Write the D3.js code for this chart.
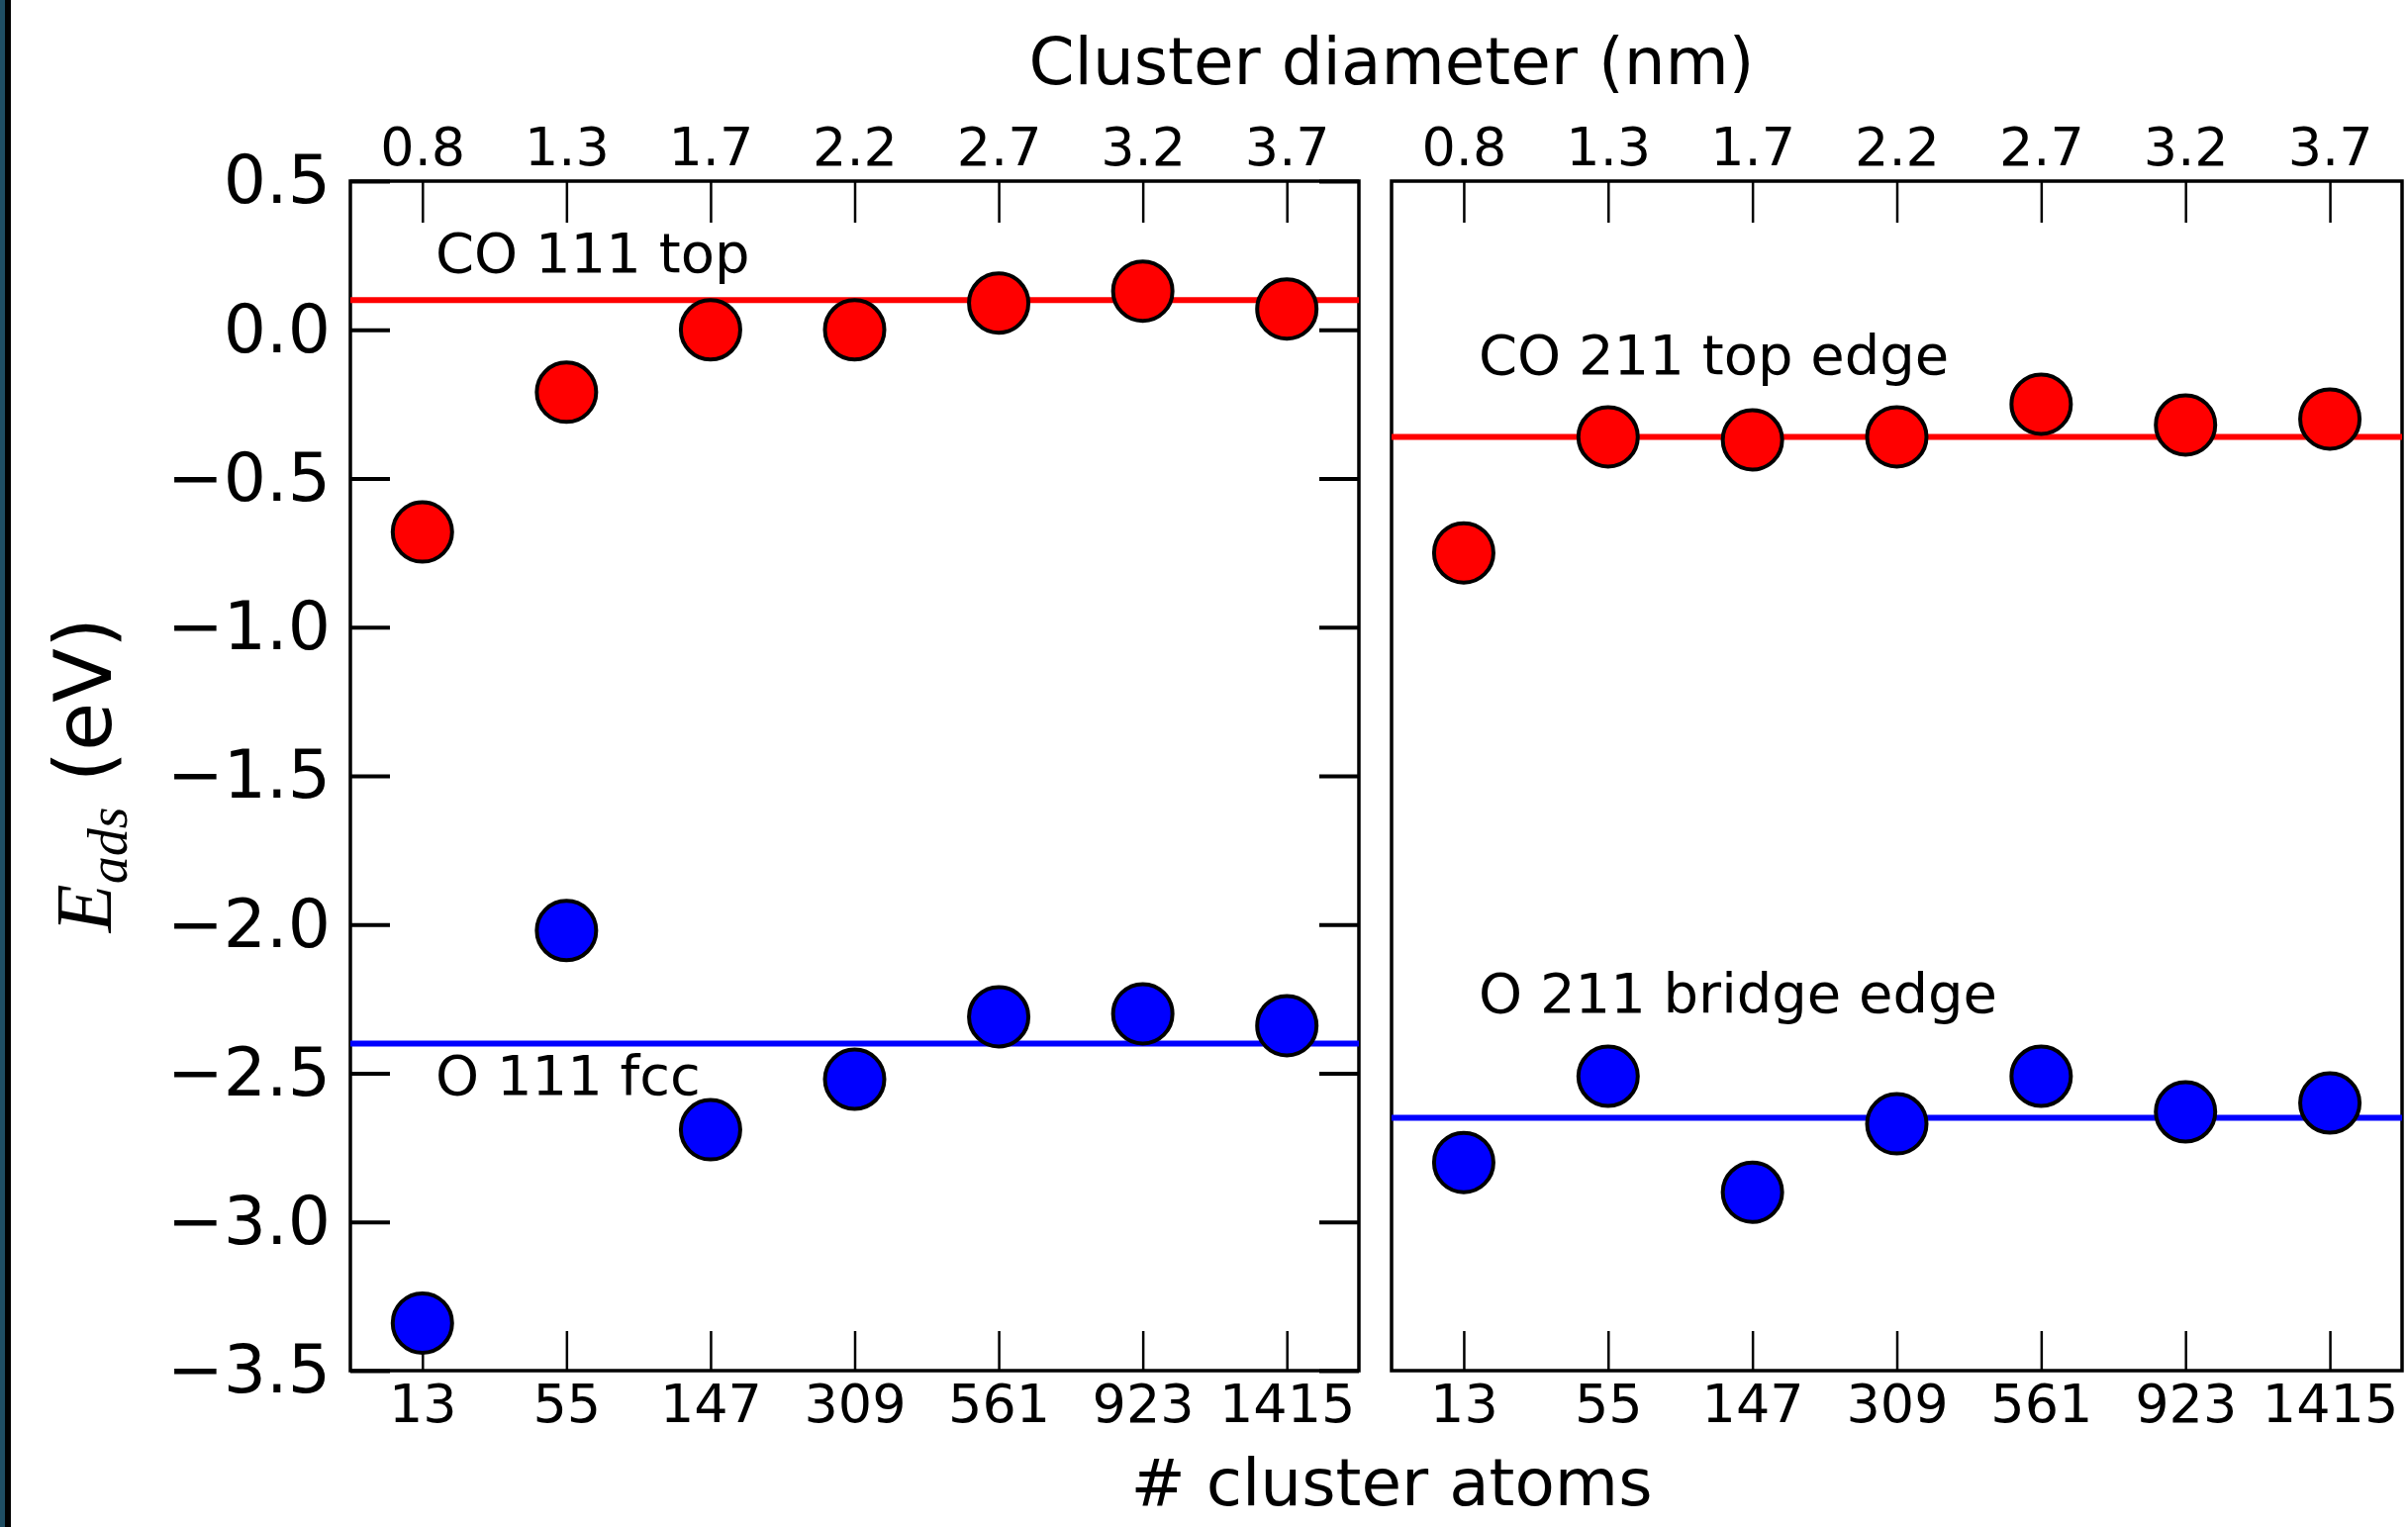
<!DOCTYPE html>
<html>
<head>
<meta charset="utf-8">
<script src="https://cdn.jsdelivr.net/npm/d3@7"></script>
<style>
  body { margin: 0; background: #fff; }
  svg { display: block; }
</style>
</head>
<body>
<svg width="2433" height="1543"></svg>
<script>
// categories / tick labels
const atoms = ['13', '55', '147', '309', '561', '923', '1415'];
const diameters = ['0.8', '1.3', '1.7', '2.2', '2.7', '3.2', '3.7'];
const yTicks = [0.5, 0.0, -0.5, -1.0, -1.5, -2.0, -2.5, -3.0, -3.5];

// adsorption energies (eV)
const co111 = [-0.68, -0.21, 0.00, 0.00, 0.09, 0.13, 0.07];
const o111 = [-3.34, -2.02, -2.69, -2.52, -2.31, -2.30, -2.34];
const co211 = [-0.75, -0.36, -0.37, -0.36, -0.25, -0.32, -0.30];
const o211 = [-2.80, -2.51, -2.90, -2.67, -2.51, -2.63, -2.60];

// reference (extended surface) values
const co111Ref = 0.10, o111Ref = -2.40;
const co211Ref = -0.36, o211Ref = -2.65;

let svg = d3.select('svg'),
    width = +svg.attr('width'),
    height = +svg.attr('height');

const plotTop = 183, plotBottom = 1385;
const font = 'DejaVu Sans, Verdana, sans-serif';

// dark strip on the left edge of the picture
svg.append('rect').attr('x', 0).attr('y', 0).attr('width', 6).attr('height', height).attr('fill', '#1f4e63');
svg.append('rect').attr('x', 5).attr('y', 0).attr('width', 6).attr('height', height).attr('fill', '#000');

let y = d3.scaleLinear().domain([-3.5, 0.5]).range([plotBottom, plotTop]);

function drawPanel(x0, x1, series, showY, labels) {
  let g = svg.append('g');
  let x = d3.scalePoint().domain(atoms).range([x0, x1]).padding(0.5);

  // bottom axis (# atoms)
  let xb = g.append('g').attr('transform', 'translate(0,' + plotBottom + ')')
    .call(d3.axisBottom(x).tickSizeInner(-40).tickSizeOuter(0).tickPadding(14));
  // top axis (diameter)
  let xt = g.append('g').attr('transform', 'translate(0,' + plotTop + ')')
    .call(d3.axisTop(x).tickSizeInner(-42).tickSizeOuter(0).tickPadding(16)
      .tickFormat((d, i) => diameters[i]));
  [xb, xt].forEach(a => {
    a.select('.domain').remove();
    a.selectAll('.tick line').attr('stroke', '#000').attr('stroke-width', 2.5);
    a.selectAll('.tick text').attr('font-family', font).attr('font-size', 54).attr('fill', '#000');
  });

  if (showY) {
    let yl = g.append('g').attr('transform', 'translate(' + x0 + ',0)')
      .call(d3.axisLeft(y).tickValues(yTicks).tickSizeInner(-40).tickSizeOuter(0).tickPadding(20)
        .tickFormat(d3.format('.1f')));
    let yr = g.append('g').attr('transform', 'translate(' + x1 + ',0)')
      .call(d3.axisRight(y).tickValues(yTicks).tickSizeInner(-40).tickSizeOuter(0).tickFormat(''));
    [yl, yr].forEach(a => {
      a.select('.domain').remove();
      a.selectAll('.tick line').attr('stroke', '#000').attr('stroke-width', 4);
    });
    yl.selectAll('.tick text').attr('font-family', font).attr('font-size', 68).attr('fill', '#000');
  }

  // frame
  g.append('rect').attr('x', x0).attr('y', plotTop)
    .attr('width', x1 - x0).attr('height', plotBottom - plotTop)
    .attr('fill', 'none').attr('stroke', '#000').attr('stroke-width', 3.5);

  // reference lines
  series.forEach(s => {
    g.append('line')
      .attr('x1', x0).attr('x2', x1)
      .attr('y1', y(s.ref)).attr('y2', y(s.ref))
      .attr('stroke', s.color).attr('stroke-width', 6);
  });

  // markers
  series.forEach(s => {
    g.append('g').selectAll('circle')
      .data(s.values)
      .enter().append('circle')
      .attr('cx', (d, i) => x(atoms[i]))
      .attr('cy', d => y(d))
      .attr('r', 30)
      .attr('fill', s.color)
      .attr('stroke', '#000')
      .attr('stroke-width', 4);
  });

  // annotations
  labels.forEach(l => {
    g.append('text')
      .attr('x', x0 + l.dx).attr('y', l.y)
      .attr('font-family', font).attr('font-size', 56).attr('fill', '#000')
      .text(l.text);
  });
}

drawPanel(354, 1373,
  [{values: co111, ref: co111Ref, color: '#ff0000'},
   {values: o111, ref: o111Ref, color: '#0000ff'}],
  true,
  [{text: 'CO 111 top', dx: 86, y: 275},
   {text: 'O 111 fcc', dx: 86, y: 1106}]);

drawPanel(1406, 2427,
  [{values: co211, ref: co211Ref, color: '#ff0000'},
   {values: o211, ref: o211Ref, color: '#0000ff'}],
  false,
  [{text: 'CO 211 top edge', dx: 88, y: 378},
   {text: 'O 211 bridge edge', dx: 88, y: 1023}]);

// axis titles
svg.append('text')
  .attr('x', 1406).attr('y', 85)
  .attr('text-anchor', 'middle')
  .attr('font-family', font).attr('font-size', 66)
  .text('Cluster diameter (nm)');

svg.append('text')
  .attr('x', 1406).attr('y', 1521)
  .attr('text-anchor', 'middle')
  .attr('font-family', font).attr('font-size', 66)
  .text('# cluster atoms');

let yl = svg.append('text')
  .attr('transform', 'translate(112,783) rotate(-90)')
  .attr('text-anchor', 'middle')
  .attr('font-size', 80);
yl.append('tspan').attr('font-family', 'Liberation Serif, serif').attr('font-style', 'italic').text('E');
yl.append('tspan').attr('font-family', 'Liberation Serif, serif').attr('font-style', 'italic')
  .attr('font-size', 56).attr('dy', 16).text('ads');
yl.append('tspan').attr('font-family', font).attr('dy', -16).text('\u00a0(eV)');
</script>
</body>
</html>
